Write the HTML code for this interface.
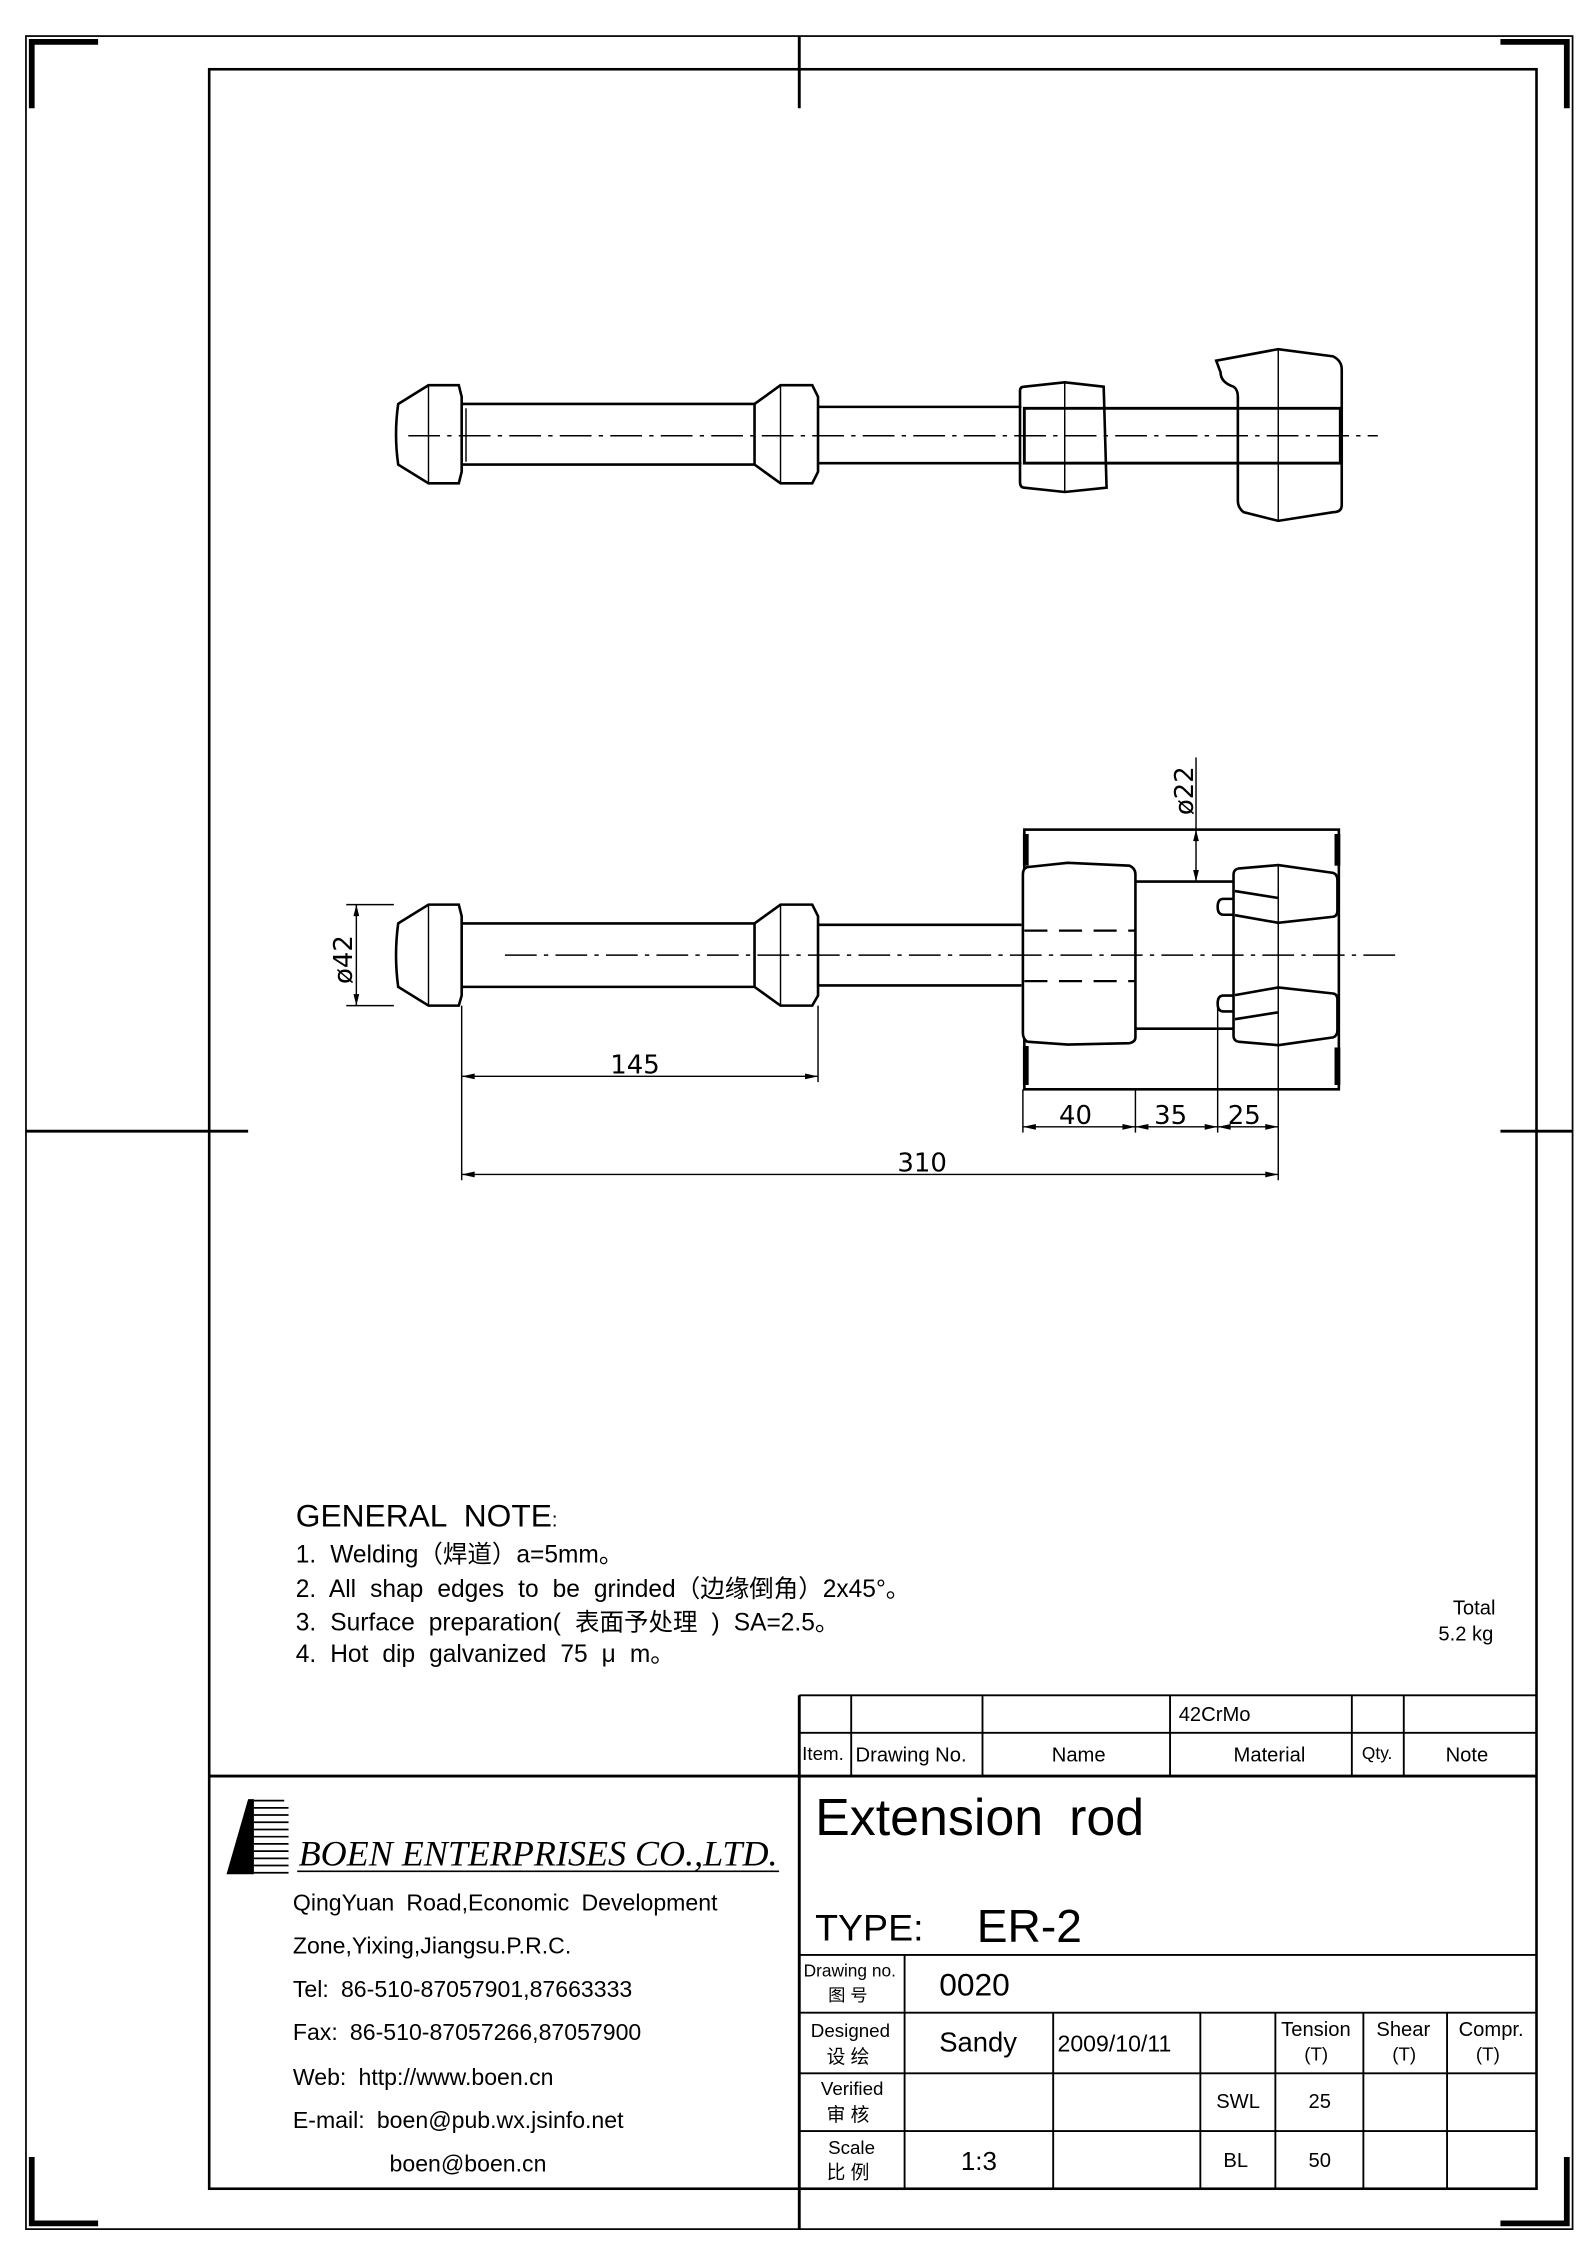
<!DOCTYPE html>
<html><head><meta charset="utf-8"><style>
html,body{margin:0;padding:0;background:#fff}
svg{display:block}
text{font-family:"Liberation Sans","Noto Sans CJK SC",sans-serif;fill:#000}
</style></head><body>
<svg width="1587" height="2245" viewBox="0 0 1100 1556" preserveAspectRatio="none" xmlns="http://www.w3.org/2000/svg">
<g fill="none" stroke="#000" stroke-width="1.2">
<rect x="18" y="25" width="1072" height="1520"/>
<rect x="145" y="48" width="920" height="1469" stroke-width="1.8"/>
</g>
<g stroke="#000" stroke-width="4" fill="none">
<polyline points="22,75 22,29 68,29"/>
<polyline points="1040,29 1086,29 1086,75"/>
<polyline points="22,1495 22,1541 68,1541"/>
<polyline points="1040,1541 1086,1541 1086,1495"/>
</g>
<g stroke="#000" stroke-width="2">
<line x1="554" y1="25" x2="554" y2="75"/>
<line x1="18" y1="784" x2="172" y2="784"/>
<line x1="1040" y1="784" x2="1090" y2="784"/>
<line x1="554" y1="1517" x2="554" y2="1545"/>
</g>

<!-- TOP VIEW -->
<g fill="none" stroke="#000" stroke-width="1.8">
<path d="M276,280 L297,267 L318,267 L320,275 L320,327 L318,335 L297,335 L276,322 Q273,301 276,280Z"/>
<line x1="297" y1="267" x2="297" y2="335" stroke-width="1"/>
<line x1="320" y1="280" x2="523" y2="280"/><line x1="320" y1="322" x2="523" y2="322"/>
<line x1="323" y1="283" x2="323" y2="320" stroke-width="1"/>
<path d="M523,280 L541,267 L563,267 L567,275 L567,327 L563,335 L541,335 L523,322Z"/>
<line x1="523" y1="280" x2="523" y2="322" stroke-width="1"/>
<line x1="541" y1="267" x2="541" y2="335" stroke-width="1"/>
<line x1="567" y1="282" x2="708" y2="282"/><line x1="567" y1="321" x2="708" y2="321"/>
<path d="M710,268 L738,265 L765,268 L767,338 L738,341 L710,338 Q707,338 707,334 L707,271 Q707,268 710,268Z"/>
<line x1="738" y1="265" x2="738" y2="341" stroke-width="1"/>
<rect x="710" y="283" width="219" height="38" stroke-width="2"/>
<path d="M843,250 L886,242 L924,247 Q930,250 930,256 L930,350 Q930,355 924,355 L886,361 L862,355 Q858,352 858,347 L858,275 Q858,270 855,268 Q846,265 846,258 L843,250Z"/>
<line x1="886" y1="242" x2="886" y2="361" stroke-width="1"/>
</g>
<line x1="283" y1="302" x2="955" y2="302" stroke="#000" stroke-width="1" stroke-dasharray="22,5,3,5"/>

<!-- BOTTOM VIEW -->
<g fill="none" stroke="#000" stroke-width="1.8">
<path d="M276,640 L297,627 L318,627 L320,635 L320,690 L318,697 L297,697 L276,684 Q273,662 276,640Z"/>
<line x1="297" y1="627" x2="297" y2="697" stroke-width="1"/>
<line x1="320" y1="640" x2="523" y2="640"/><line x1="320" y1="684" x2="523" y2="684"/>
<path d="M523,640 L541,627 L563,627 L567,635 L567,690 L563,697 L541,697 L523,684Z"/>
<line x1="541" y1="627" x2="541" y2="697" stroke-width="1"/>
<line x1="567" y1="641" x2="708" y2="641"/><line x1="567" y1="683" x2="708" y2="683"/>
<rect x="710" y="575" width="218" height="180"/>
<path d="M712,601 L740,598 L783,600 Q787,602 787,606 L787,719 Q787,722 783,723 L740,724 L712,722 Q709,720 709,716 L709,606 Q709,602 712,601Z" fill="#fff"/>
<line x1="787" y1="611" x2="855" y2="611"/><line x1="787" y1="713" x2="855" y2="713"/>
<!-- right blocks -->
<path d="M858,602 L886,599.6 L924,605 Q927,606 927,610 L927,631 Q927,635 924,635.4 L886,639.6 L856,634.3" fill="#fff"/>
<path d="M858,722 L886,724.4 L924,719 Q927,718 927,714 L927,693 Q927,689 924,688.6 L886,684.4 L856,689.7" fill="#fff"/>
<path d="M858,602 Q855,603 855,606 L855,718 Q855,721 858,722"/>
<line x1="856" y1="617.6" x2="885.5" y2="622.3"/>
<line x1="856" y1="706.4" x2="885.5" y2="701.7"/>
<path d="M855,623 L848,623 Q844,623 844,628.5 Q844,634 848,634 L855,634"/>
<path d="M855,701 L848,701 Q844,701 844,695.5 Q844,690 848,690 L855,690"/>
<line x1="886" y1="599" x2="886" y2="726" stroke-width="1"/>
</g>
<g stroke="#000" stroke-width="4"><line x1="711" y1="578" x2="711" y2="600"/><line x1="927" y1="578" x2="927" y2="600"/><line x1="711" y1="725" x2="711" y2="752"/><line x1="927" y1="726" x2="927" y2="752"/></g>
<g stroke="#000" stroke-width="1.5" stroke-dasharray="16,8"><line x1="710" y1="645" x2="787" y2="645"/><line x1="710" y1="680" x2="787" y2="680"/></g>
<line x1="350" y1="662" x2="970" y2="662" stroke="#000" stroke-width="1" stroke-dasharray="22,5,3,5"/>

<!-- dimensions -->
<g stroke="#000" stroke-width="1" fill="none">
<line x1="240" y1="627" x2="273" y2="627"/><line x1="240" y1="697" x2="273" y2="697"/>
<line x1="247" y1="627" x2="247" y2="697"/>
<line x1="320" y1="697" x2="320" y2="818"/><line x1="567" y1="697" x2="567" y2="750"/>
<line x1="320" y1="746" x2="567" y2="746"/>
<line x1="709" y1="755" x2="709" y2="785"/><line x1="787" y1="755" x2="787" y2="785"/>
<line x1="844" y1="695" x2="844" y2="785"/><line x1="886" y1="726" x2="886" y2="818"/>
<line x1="709" y1="781" x2="886" y2="781"/>
<line x1="320" y1="814" x2="886" y2="814"/>
<line x1="829" y1="525" x2="829" y2="611"/>
</g>
<g fill="#000">
<path d="M247,627 l-2,8 h4z M247,697 l-2,-8 h4z"/>
<path d="M320,746 l9,-2 v4z M567,746 l-9,-2 v4z"/>
<path d="M709,781 l9,-2 v4z M787,781 l-9,-2 v4z M787,781 l9,-2 v4z M844,781 l-9,-2 v4z M844,781 l9,-2 v4z M886,781 l-9,-2 v4z"/>
<path d="M320,814 l9,-2 v4z M886,814 l-9,-2 v4z"/>
<path d="M829,575 l-2,8 h4z M829,611 l-2,-8 h4z"/>
</g>
<g font-size="18">
<text x="423" y="744" style="font-family:'DejaVu Sans',sans-serif">145</text>
<text x="734" y="779" style="font-family:'DejaVu Sans',sans-serif">40</text>
<text x="800" y="779" style="font-family:'DejaVu Sans',sans-serif">35</text>
<text x="851" y="779" style="font-family:'DejaVu Sans',sans-serif">25</text>
<text x="622" y="812" style="font-family:'DejaVu Sans',sans-serif">310</text>
<text transform="translate(244,682) rotate(-90)" style="font-family:'DejaVu Sans',sans-serif">ø42</text>
<text transform="translate(827,565) rotate(-90)" style="font-family:'DejaVu Sans',sans-serif">ø22</text>
</g>

<!-- notes -->
<text x="205" y="1058" font-size="22" style="word-spacing:6px">GENERAL  NOTE<tspan font-size="14">:</tspan></text>
<g font-size="17" style="word-spacing:5px">
<text x="205" y="1083">1.  Welding（焊道）a=5mm。</text>
<text x="205" y="1107">2.  All  shap  edges  to  be  grinded（边缘倒角）2x45°。</text>
<text x="205" y="1130">3.  Surface  preparation( 表面予处理 )  SA=2.5。</text>
<text x="205" y="1152">4.  Hot  dip  galvanized      75 μ m。</text>
</g>
<text x="1007" y="1119" font-size="14">Total</text>
<text x="997" y="1137" font-size="14">5.2  kg</text>

<!-- title block -->
<g stroke="#000" stroke-width="1.3" fill="none">
<line x1="554" y1="1175" x2="1065" y2="1175"/>
<line x1="554" y1="1201" x2="1065" y2="1201"/>
<line x1="145" y1="1231" x2="1065" y2="1231" stroke-width="2"/>
<line x1="554" y1="1175" x2="554" y2="1517" stroke-width="2"/>
<line x1="590" y1="1175" x2="590" y2="1231"/><line x1="681" y1="1175" x2="681" y2="1231"/>
<line x1="811" y1="1175" x2="811" y2="1231"/><line x1="937" y1="1175" x2="937" y2="1231"/>
<line x1="973" y1="1175" x2="973" y2="1231"/>
<line x1="554" y1="1355" x2="1065" y2="1355"/>
<line x1="554" y1="1395" x2="1065" y2="1395"/>
<line x1="554" y1="1437" x2="1065" y2="1437"/>
<line x1="554" y1="1477" x2="1065" y2="1477"/>
<line x1="627" y1="1355" x2="627" y2="1517"/>
<line x1="730" y1="1395" x2="730" y2="1517"/>
<line x1="832" y1="1395" x2="832" y2="1517"/>
<line x1="884" y1="1395" x2="884" y2="1517"/>
<line x1="945" y1="1395" x2="945" y2="1517"/>
<line x1="1003" y1="1395" x2="1003" y2="1517"/>
</g>
<g font-size="14">
<text x="817" y="1193">42CrMo</text>
<text x="556" y="1220" font-size="13">Item.</text>
<text x="593" y="1221">Drawing  No.</text>
<text x="729" y="1221">Name</text>
<text x="855" y="1221">Material</text>
<text x="944" y="1219" font-size="12">Qty.</text>
<text x="1002" y="1221">Note</text>
</g>
<text x="565" y="1272" font-size="36" style="word-spacing:8px">Extension  rod</text>
<text x="565" y="1345" font-size="26">TYPE:</text>
<text x="677" y="1346" font-size="32">ER-2</text>
<text x="557" y="1370" font-size="12">Drawing no.</text>
<text x="574" y="1387" font-size="12">图  号</text>
<text x="651" y="1383" font-size="22">0020</text>
<text x="562" y="1412" font-size="13">Designed</text>
<text x="573" y="1430" font-size="13">设  绘</text>
<text x="651" y="1422" font-size="19">Sandy</text>
<text x="733" y="1422" font-size="16">2009/10/11</text>
<text x="888" y="1411" font-size="14">Tension</text>
<text x="904" y="1428" font-size="13">(T)</text>
<text x="954" y="1411" font-size="14">Shear</text>
<text x="965" y="1428" font-size="13">(T)</text>
<text x="1011" y="1411" font-size="14">Compr.</text>
<text x="1023" y="1428" font-size="13">(T)</text>
<text x="569" y="1452" font-size="13">Verified</text>
<text x="573" y="1470" font-size="13">审  核</text>
<text x="843" y="1461" font-size="14">SWL</text>
<text x="907" y="1461" font-size="14">25</text>
<text x="574" y="1493" font-size="13">Scale</text>
<text x="573" y="1510" font-size="13">比  例</text>
<text x="666" y="1504" font-size="18">1:3</text>
<text x="848" y="1502" font-size="14">BL</text>
<text x="907" y="1502" font-size="14">50</text>

<!-- company -->
<g fill="#000">
<path d="M157,1299 L172,1247 L176,1247 L176,1299Z"/>
</g>
<g stroke="#000" stroke-width="1.2">
<line x1="176" y1="1248" x2="197" y2="1248"/><line x1="176" y1="1253" x2="200" y2="1253"/>
<line x1="176" y1="1258" x2="200" y2="1258"/><line x1="176" y1="1263" x2="200" y2="1263"/>
<line x1="176" y1="1268" x2="200" y2="1268"/><line x1="176" y1="1273" x2="200" y2="1273"/>
<line x1="176" y1="1278" x2="200" y2="1278"/><line x1="176" y1="1283" x2="200" y2="1283"/>
<line x1="176" y1="1288" x2="200" y2="1288"/><line x1="176" y1="1293" x2="200" y2="1293"/>
<line x1="176" y1="1298" x2="200" y2="1298"/>
<line x1="206" y1="1297" x2="540" y2="1297"/>
</g>
<text x="207" y="1293" font-size="25" font-style="italic" style="font-family:'Liberation Serif',serif">BOEN ENTERPRISES CO.,LTD.</text>
<g font-size="16" style="word-spacing:4px">
<text x="203" y="1324">QingYuan  Road,Economic  Development</text>
<text x="203" y="1354">Zone,Yixing,Jiangsu.P.R.C.</text>
<text x="203" y="1384">Tel:  86-510-87057901,87663333</text>
<text x="203" y="1414">Fax:  86-510-87057266,87057900</text>
<text x="203" y="1445">Web:  http://www.boen.cn</text>
<text x="203" y="1475">E-mail:  boen@pub.wx.jsinfo.net</text>
<text x="270" y="1505">boen@boen.cn</text>
</g>
</svg>
</body></html>
